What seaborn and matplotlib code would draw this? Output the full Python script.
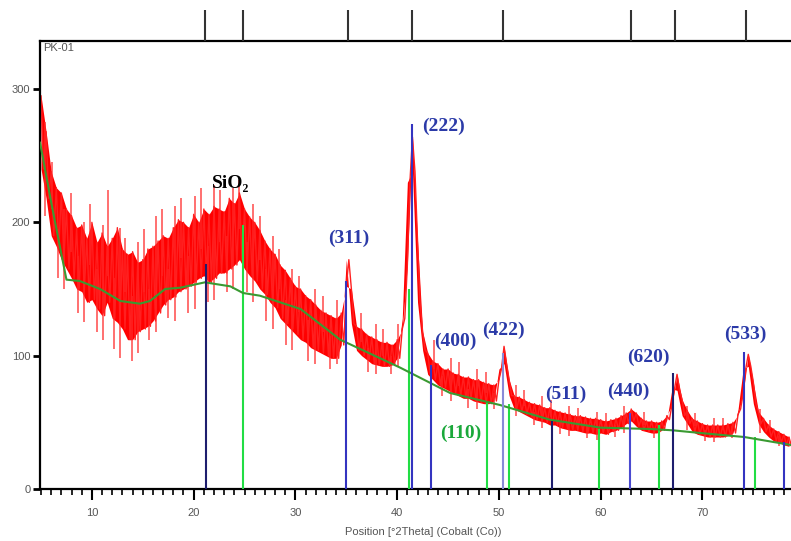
import numpy as np
import pandas as pd
import matplotlib
matplotlib.use("Agg")
import matplotlib.pyplot as plt
from matplotlib.ticker import MultipleLocator
import seaborn as sns

# ---------------- data ----------------
scan_start = 5.0
scan_step = 0.25
intensity = [
    295, 240, 268, 218,  238, 190, 226, 182,  222, 172, 210, 165,  205, 158, 196, 150,
    198, 148, 188, 140,  200, 142, 185, 135,  192, 130, 182, 140,  188, 128, 196, 125,
    180, 120, 176, 112,  178, 112, 170, 118,  172, 120, 180, 122,  182, 126, 186, 132,
    190, 138, 188, 142,  196, 144, 202, 148,  200, 150, 196, 152,  206, 155, 200, 158,
    210, 160, 206, 155,  212, 158, 210, 162,  208, 162, 218, 165,  214, 168, 222, 172,
    210, 165, 204, 160,  200, 156, 194, 150,  186, 146, 180, 140,  176, 136, 168, 128,
    164, 124, 158, 120,  152, 116, 150, 112,  145, 110, 142, 106,  138, 104, 134, 102,
    132, 100, 130, 98,   128, 98, 132, 108,   152, 172, 150, 124,  122, 104, 120, 100,
    116, 97, 114, 94,    112, 93, 110, 92,    110, 92, 108, 93,    112, 98, 120, 128,
    168, 230, 264, 238,  186, 140, 118, 104,  102, 86, 96, 82,     94, 78, 90, 76,
    90, 74, 87, 72,      86, 70, 84, 68,      84, 68, 82, 66,      82, 65, 80, 64,
    79, 64, 78, 66,      82, 90, 107, 94,     82, 70, 70, 60,      69, 58, 67, 56,
    65, 54, 64, 52,      63, 51, 61, 50,      61, 48, 59, 48,      58, 46, 57, 45,
    56, 44, 55, 44,      55, 43, 54, 42,      53, 42, 53, 41,      52, 42, 51, 41,
    52, 43, 53, 44,      55, 46, 57, 49,      60, 51, 57, 47,      53, 44, 51, 43,
    51, 42, 50, 42,      51, 44, 55, 52,      63, 75, 86, 74,      67, 55, 59, 49,
    53, 43, 51, 41,      49, 40, 48, 39,      48, 39, 48, 39,      48, 39, 49, 40,
    50, 42, 56, 60,      72, 90, 101, 92,     80, 64, 58, 49,      53, 43, 48, 39,
    45, 36, 43, 35,      41, 33, 39, 32,
]
two_theta = scan_start + scan_step * np.arange(len(intensity))

# isolated noise spikes: position, top, bottom
spike_pos = [5.4, 6.1, 6.7, 7.3, 7.9, 8.6, 9.2, 9.8, 10.5, 11.1, 11.6, 12.2, 12.8, 13.3,
             13.9, 14.5, 15.1, 15.6, 16.3, 16.9, 17.5, 18.2, 18.8, 19.4, 20.1, 20.7,
             21.4, 22.0, 22.6, 23.3, 23.9, 24.5, 25.2, 25.8, 26.5, 27.1, 27.8, 28.4,
             29.1, 29.7, 30.4, 31.2, 31.9, 32.7, 33.4, 34.1, 36.4, 37.1, 37.9, 38.6,
             39.4, 40.1, 43.6, 44.4, 45.3, 46.1, 47.0, 47.8, 48.7, 49.5, 51.7, 52.5,
             53.4, 54.2, 55.1, 56.0, 56.9, 57.8, 58.7, 59.6, 60.5, 61.4, 62.3, 64.3,
             65.2, 68.5, 69.3, 70.2, 71.1, 72.0, 72.9, 75.7, 76.6, 77.5]
spike_top = [275, 245, 195, 210, 222, 175, 200, 214, 165, 198, 224, 158, 196, 188,
             145, 185, 195, 150, 205, 210, 165, 212, 218, 175, 220, 226,
             182, 228, 224, 190, 226, 232, 185, 214, 205, 165, 190, 180,
             142, 165, 160, 127, 150, 145, 115, 142, 132, 106, 124, 120,
             100, 124, 112, 85, 98, 95, 75, 90, 88, 72, 78, 74,
             58, 70, 67, 51, 62, 61, 47, 58, 57, 48, 62, 58,
             46, 62, 57, 44, 53, 53, 47, 60, 52, 40]
spike_bottom = [205, 210, 158, 150, 178, 132, 125, 168, 118, 112, 160, 105, 98, 148,
                96, 102, 148, 112, 118, 160, 128, 126, 173, 132, 135, 180,
                140, 142, 185, 148, 150, 195, 148, 140, 172, 126, 120, 150,
                108, 104, 133, 96, 94, 118, 90, 94, 110, 88, 86, 100,
                86, 92, 90, 70, 66, 77, 61, 60, 72, 60, 55, 62,
                48, 46, 54, 41, 40, 48, 38, 37, 46, 39, 42, 48,
                38, 44, 47, 36, 35, 44, 38, 42, 45, 32]

bg_theta = [4.9, 6.0, 7.5, 8.8, 10.8, 12.8, 14.7, 15.7, 17.2, 18.7, 21.1, 23.6, 24.85,
            26.5, 30.5, 34.4, 40.3, 45.2, 50.1, 55.0, 60.0, 64.9, 67.1, 69.8, 74.1, 78.7]
bg_counts = [260, 215, 157, 156, 150, 141, 139, 141, 150, 151, 155, 152, 147,
             145, 135, 112, 91, 72, 63, 52, 46, 45, 44, 42, 39, 33]

# reference sticks (spinel phase)
ref_pos = [21.2, 35.0, 41.45, 43.33, 50.41, 55.23, 62.9, 67.13, 74.11, 78.0]
ref_height = [169, 156, 274, 93, 102, 51, 57, 87, 103, 35]
ref_color = ['#1e1e6e', '#3434c0', '#3434c0', '#3434c0', '#8a8ad8', '#1e1e6e',
             '#4a4ad0', '#1e1e6e', '#3434c0', '#3434c0']
# reference sticks (SiO2 phase)
sio2_pos = [24.85, 41.2, 48.84, 51.0, 59.85, 65.75, 75.2]
sio2_height = [198, 150, 66, 64, 45, 48, 39]

# peak list markers in top strip
peak_list = [21.1, 24.85, 35.2, 41.5, 50.4, 63.0, 67.3, 74.3]

hkl_labels = ['(311)', '(222)', '(400)', '(422)', '(511)', '(440)', '(620)', '(533)']
hkl_x = [35.2, 44.6, 45.7, 50.4, 56.6, 62.7, 64.7, 74.2]
hkl_y = [188, 272, 111, 119, 71, 73, 99, 116]

# ---------------- plot ----------------
sns.set_style("white")
plt.rcParams['font.family'] = ['Liberation Sans', 'DejaVu Sans']

fig = plt.figure(figsize=(7.91, 5.41), dpi=100)
ax = fig.add_axes([40/791, 52/541, 1 - 40/791, 448/541])
top = fig.add_axes([40/791, 500/541, 1 - 40/791, 31/541])

# noise band between alternating high / low readings
ax.fill_between(two_theta[0::2], intensity[1::2], intensity[0::2],
                color='#ff0000', linewidth=0, zorder=2)
ax.vlines(spike_pos, spike_bottom, spike_top, colors='#ff2a2a', linewidth=1.1,
          alpha=0.85, zorder=2)
df = pd.DataFrame({'two_theta': two_theta, 'counts': intensity})
sns.lineplot(data=df, x='two_theta', y='counts', ax=ax, color='#ff2020',
             linewidth=1.0, estimator=None, zorder=2)

ax.vlines(ref_pos, 0, ref_height, colors=ref_color, linewidth=1.5, zorder=4)
ax.vlines(sio2_pos, 0, sio2_height, colors='#22dd44', linewidth=1.5, zorder=3)

bg = pd.DataFrame({'two_theta': bg_theta, 'counts': bg_counts})
sns.lineplot(data=bg, x='two_theta', y='counts', ax=ax, color='#3a9a32',
             linewidth=1.5, estimator=None, zorder=3)

ax.set_xlim(4.9, 78.7)
ax.set_ylim(0, 336)
ax.xaxis.set_major_locator(MultipleLocator(10))
ax.xaxis.set_minor_locator(MultipleLocator(1))
ax.set_yticks([0, 100, 200, 300])
ax.tick_params(axis='x', which='major', direction='out', length=8, width=1.5,
               color='black', labelsize=8, labelcolor='#555555', pad=6)
ax.tick_params(axis='x', which='minor', direction='out', length=4, width=1.2, color='black')
ax.tick_params(axis='y', which='major', direction='out', length=5, width=2,
               color='black', labelsize=8, labelcolor='#555555', pad=2)
ax.tick_params(bottom=True, left=True, which='both')
for s in ['left', 'bottom', 'top']:
    ax.spines[s].set_color('black')
    ax.spines[s].set_linewidth(1.6)
ax.spines['right'].set_visible(False)
ax.set_xlabel('Position [°2Theta] (Cobalt (Co))', fontsize=8, color='#555555', labelpad=8)
ax.xaxis.set_label_coords((423 - 40) / 751, -0.085)
ax.set_ylabel('')
ax.text(0.004, 0.995, 'PK-01', transform=ax.transAxes, ha='left', va='top',
        fontsize=8, color='#555555')

serif = ['Liberation Serif', 'DejaVu Serif']
ax.text(23.6, 229, 'SiO₂', ha='center', va='center', fontsize=14,
        fontweight='bold', color='black', family=serif)
for lab, x, y in zip(hkl_labels, hkl_x, hkl_y):
    ax.text(x, y, lab, ha='center', va='center', fontsize=14, fontweight='bold',
            color='#2b3aa8', family=serif)
ax.text(46.2, 42, '(110)', ha='center', va='center', fontsize=14, fontweight='bold',
        color='#1aa83a', family=serif)

top.set_xlim(ax.get_xlim())
top.set_ylim(0, 1)
top.vlines(peak_list, 0, 1, colors='#333333', linewidth=1.5)
top.set_xticks([])
top.set_yticks([])
for s in top.spines.values():
    s.set_visible(False)
top.patch.set_alpha(0)

fig.savefig('out.png', dpi=100)
